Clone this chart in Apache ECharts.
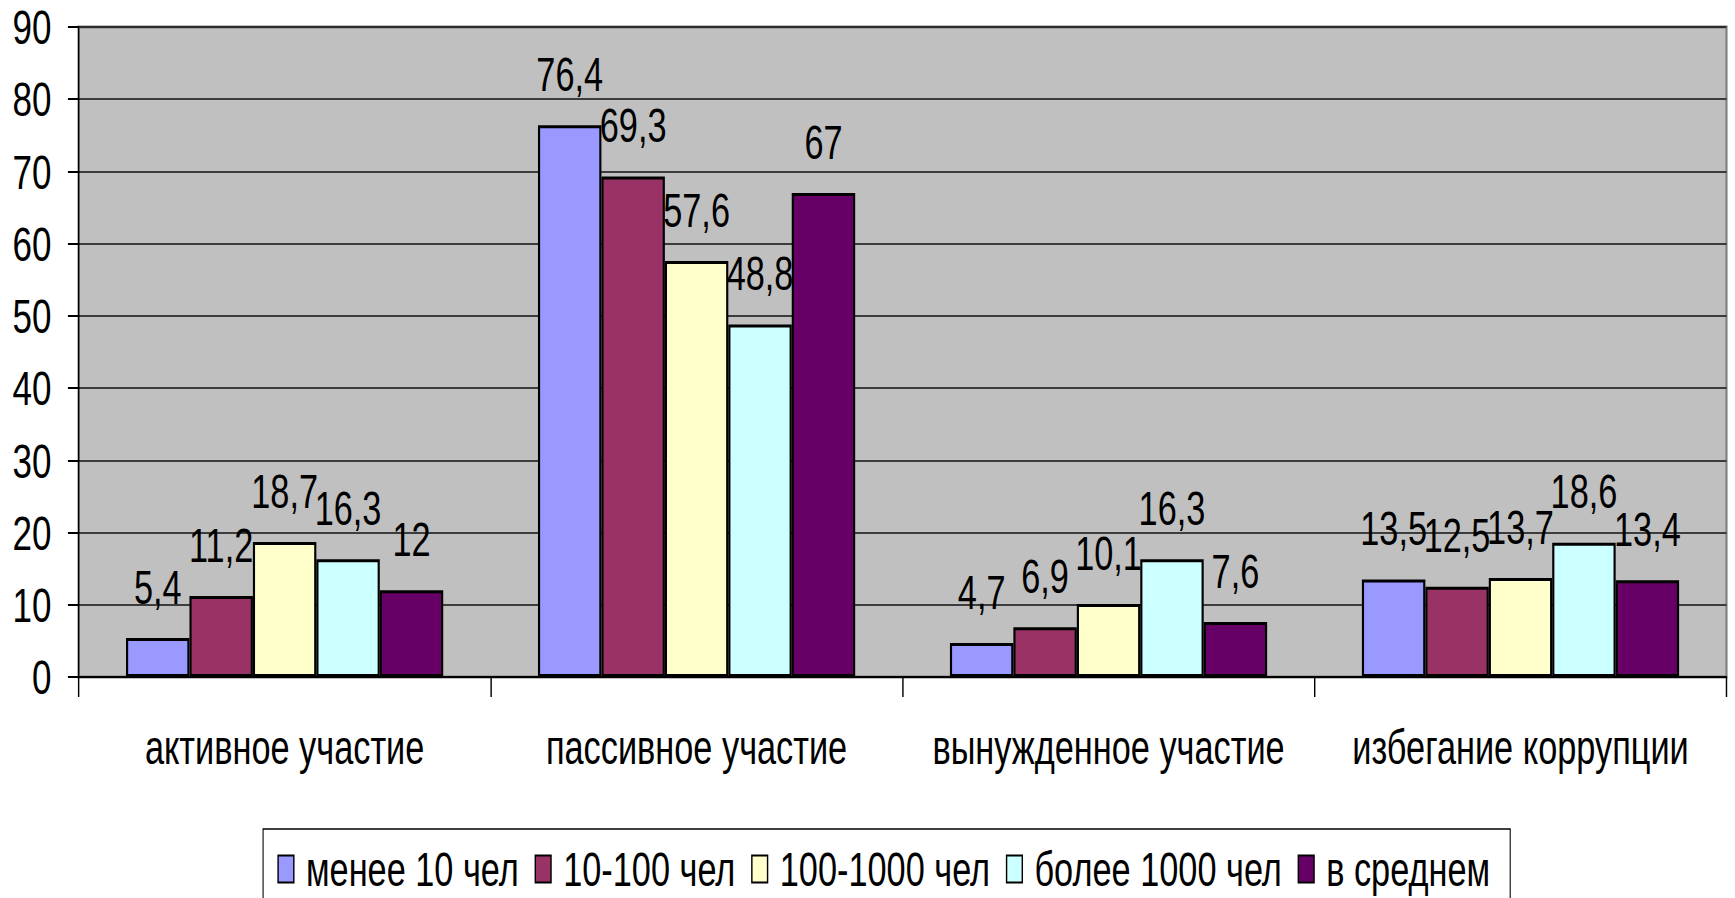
<!DOCTYPE html>
<html>
<head>
<meta charset="utf-8">
<script src="https://cdn.jsdelivr.net/npm/echarts@6/dist/echarts.min.js"></script>
<style>
html,body{margin:0;padding:0;background:#fff;overflow:hidden;width:1735px;height:898px;}
#wrap{width:1735px;height:898px;overflow:hidden;position:relative;}
#chart{width:2427px;height:898px;transform:scaleX(0.7149);transform-origin:0 0;position:absolute;left:0;top:0;}
</style>
</head>
<body>
<div id="wrap"><div id="chart"></div></div>
<script>
var categories = ['активное участие', 'пассивное участие', 'вынужденное участие', 'избегание коррупции'];
var seriesNames = ['менее 10 чел', '10-100 чел', '100-1000 чел', 'более 1000 чел', 'в среднем'];
var lessThan10 = [5.4, 76.4, 4.7, 13.5];
var from10to100 = [11.2, 69.3, 6.9, 12.5];
var from100to1000 = [18.7, 57.6, 10.1, 13.7];
var moreThan1000 = [16.3, 48.8, 16.3, 18.6];
var average = [12, 67, 7.6, 13.4];
var yTicks = [0, 10, 20, 30, 40, 50, 60, 70, 80, 90];

var colors = ['#9999FF', '#993366', '#FFFFCC', '#CCFFFF', '#660066'];
var allData = [lessThan10, from10to100, from100to1000, moreThan1000, average];
var FONT = '"Liberation Sans", Arial, sans-serif';

var chart = echarts.init(document.getElementById('chart'), null, {renderer: 'svg'});
var series = allData.map(function (d, i) {
  return {
    name: seriesNames[i],
    type: 'bar',
    data: d,
    barGap: '0%',
    barCategoryGap: '23%',
    itemStyle: {color: colors[i], borderColor: '#000', borderWidth: 3},
    label: {
      show: true,
      position: 'top',
      distance: 27,
      color: '#000',
      fontFamily: FONT,
      fontSize: 48,
      formatter: function (p) { return String(p.value).replace('.', ','); }
    },
    animation: false
  };
});

chart.setOption({
  animation: false,
  backgroundColor: '#fff',
  textStyle: {fontFamily: FONT},
  grid: {
    left: 110, right: 12, top: 27, bottom: 221,
    show: true, backgroundColor: '#C0C0C0', borderColor: '#808080', borderWidth: 3
  },
  legend: {
    data: seriesNames,
    left: 368,
    top: 829,
    orient: 'horizontal',
    icon: 'rect',
    itemWidth: 22,
    itemHeight: 27,
    itemGap: 22,
    padding: [16, 28, 16, 20],
    borderColor: '#000',
    borderWidth: 1.5,
    backgroundColor: '#fff',
    itemStyle: {borderColor: '#000', borderWidth: 2},
    textStyle: {fontFamily: FONT, fontSize: 48, color: '#000', padding: [0, 0, 0, 12]}
  },
  xAxis: {
    type: 'category',
    data: categories,
    axisLine: {show: true, lineStyle: {color: '#000', width: 2}},
    axisTick: {show: true, length: 20, lineStyle: {color: '#000', width: 2}},
    axisLabel: {interval: 0, fontFamily: FONT, fontSize: 48, color: '#000', margin: 46},
    splitLine: {show: false}
  },
  yAxis: {
    type: 'value',
    min: 0, max: 90, interval: 10,
    axisLine: {show: true, lineStyle: {color: '#000', width: 2}},
    axisTick: {show: true, length: 15, lineStyle: {color: '#000', width: 2}},
    axisLabel: {fontFamily: FONT, fontSize: 49, color: '#000', margin: 38,
      formatter: function (v) { return yTicks.indexOf(v) >= 0 ? String(v) : ''; }},
    splitLine: {show: true, lineStyle: {color: '#111', width: 1.5}}
  },
  series: series
});
</script>
</body>
</html>
